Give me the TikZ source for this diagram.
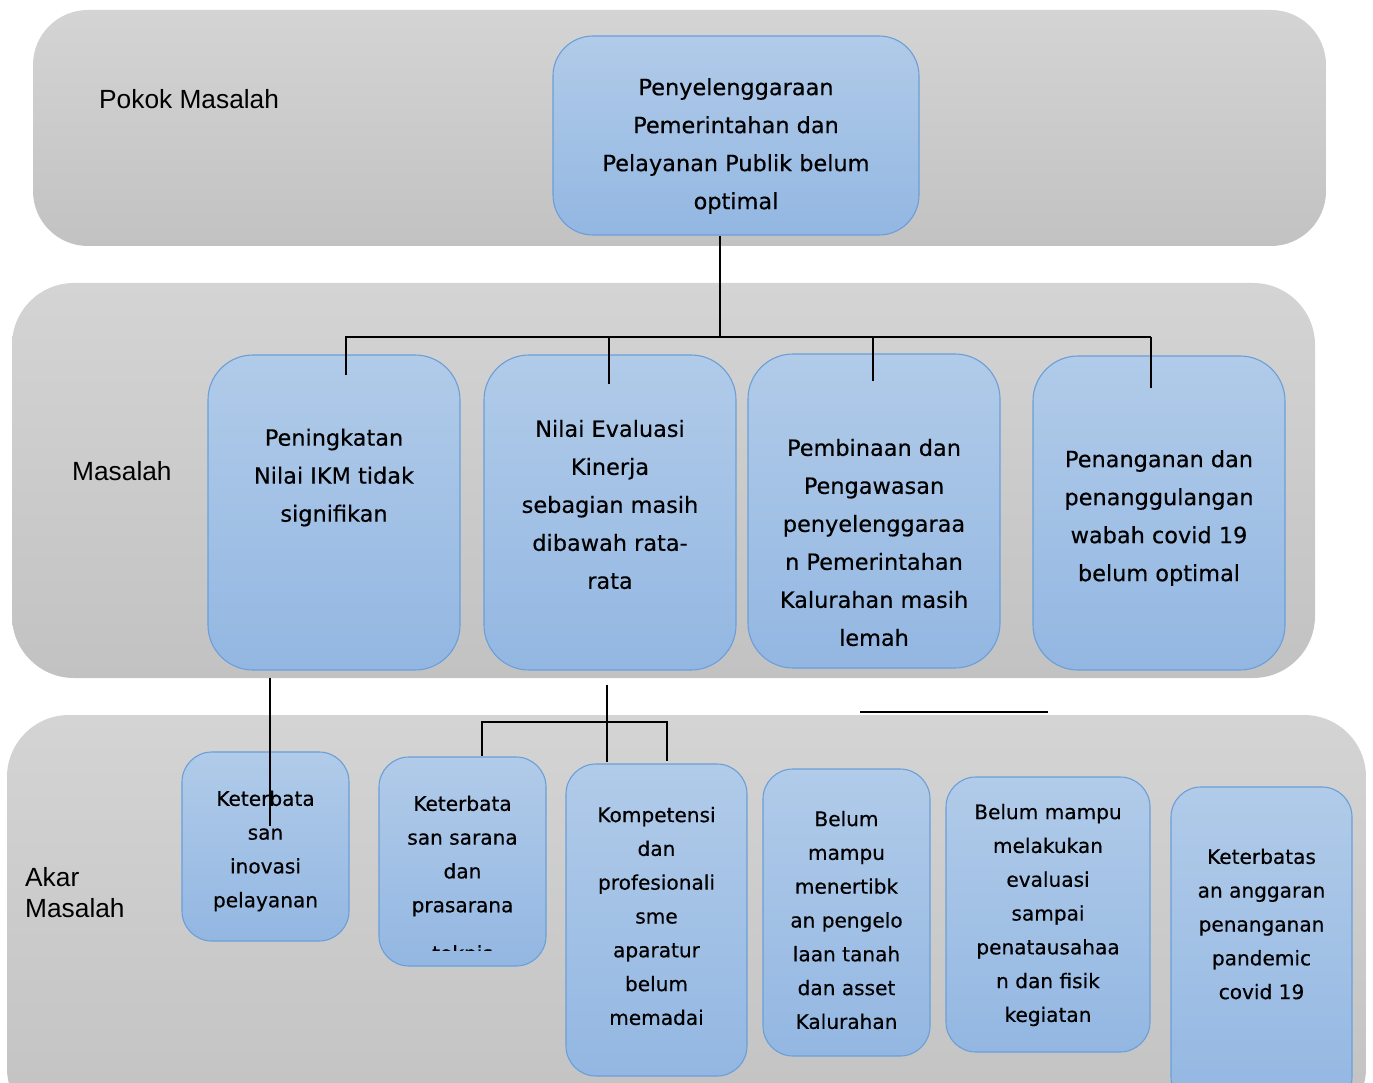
\documentclass[tikz,border=0pt]{standalone}
\usepackage{fontspec}
\setmainfont{Liberation Sans}
\newfontfamily\hand{DejaVu Sans}[FakeBold=0.4]
\definecolor{bandtop}{HTML}{D4D4D4}
\definecolor{bandbot}{HTML}{C2C2C2}
\definecolor{cardtop}{HTML}{B1CBE9}
\definecolor{cardbot}{HTML}{93B7E2}
\definecolor{cardline}{HTML}{6A9FD8}
\begin{document}
\begin{tikzpicture}[x=1pt,y=-1pt,
  band/.style={draw=none,top color=bandtop,bottom color=bandbot},
  card/.style={rectangle,draw=cardline,line width=1.1pt,top color=cardtop,bottom color=cardbot,inner sep=0pt},
  bigtext/.style={align=center,inner sep=0pt,font=\hand\fontsize{22.4}{38}\selectfont},
  smalltext/.style={align=center,inner sep=0pt,font=\hand\fontsize{20.1}{33.8}\selectfont},
  tier/.style={anchor=base west,inner sep=0pt,font=\fontsize{26.3}{31}\selectfont,align=left},
  link/.style={draw=black,line width=2.9pt}]
\useasboundingbox (0,0) rectangle (1373,1083);
\clip (0,0) rectangle (1373,1083);
\fill[white] (0,0) rectangle (1373,1083);

% three horizontal bands
\path[band,rounded corners=55pt] (33,10) rectangle (1326,246);
\path[band,rounded corners=62pt] (12,283) rectangle (1315,678);
\path[band,rounded corners=62pt] (7,715) rectangle (1366,1130);

% tier labels
\node[tier] (lab1) at (99,109) {Pokok Masalah};
\node[tier] (lab2) at (72,480) {Masalah};
\node[tier,anchor=north west] (lab3) at (25,867) {Akar\\Masalah};

% top problem
\node[card,rounded corners=40pt,minimum width=366pt,minimum height=199pt] (T0) at (736,135.5) {};
\node[bigtext] (t0) at (736,146) {Penyelenggaraan\\Pemerintahan dan\\Pelayanan Publik belum\\optimal};

% problems
\node[card,rounded corners=45pt,minimum width=252pt,minimum height=315pt] (M1) at (334,512.5) {};
\node[card,rounded corners=45pt,minimum width=252pt,minimum height=315pt] (M2) at (610,512.5) {};
\node[card,rounded corners=45pt,minimum width=252pt,minimum height=314pt] (M3) at (874,511) {};
\node[card,rounded corners=45pt,minimum width=252pt,minimum height=314pt] (M4) at (1159,513) {};
\node[bigtext] (m1) at (334,477.5) {Peningkatan\\Nilai IKM tidak\\signifikan};
\node[bigtext] (m2) at (610,504.5) {Nilai Evaluasi\\Kinerja\\sebagian masih\\dibawah rata-\\rata};
\node[bigtext] (m3) at (874,542.5) {Pembinaan dan\\Pengawasan\\penyelenggaraa\\n Pemerintahan\\Kalurahan masih\\lemah};
\node[bigtext] (m4) at (1159,518) {Penanganan dan\\penanggulangan\\wabah covid 19\\belum optimal};

% root causes
\node[card,rounded corners=30pt,minimum width=167pt,minimum height=189pt] (B1) at (265.5,846.5) {};
\node[card,rounded corners=30pt,minimum width=167pt,minimum height=209pt] (B2) at (462.5,861.5) {};
\node[card,rounded corners=30pt,minimum width=181pt,minimum height=312pt] (B3) at (656.5,920) {};
\node[card,rounded corners=30pt,minimum width=167pt,minimum height=287pt] (B4) at (846.5,912.5) {};
\node[card,rounded corners=30pt,minimum width=204pt,minimum height=275pt] (B5) at (1048,914.5) {};
\node[card,rounded corners=30pt,minimum width=181pt,minimum height=320pt] (B6) at (1261.5,947) {};
\node[smalltext] (b1) at (265.5,851) {Keterbata\\san\\inovasi\\pelayanan};
\node[smalltext] (b2) at (462.5,856) {Keterbata\\san sarana\\dan\\prasarana};
% last line of this card overflows its text area and is cut off
\begin{scope}
  \clip (379,757) rectangle (546,950);
  \node[smalltext] (b2x) at (462.5,953) {teknis};
\end{scope}
\node[smalltext] (b3) at (656.5,916) {Kompetensi\\dan\\profesionali\\sme\\aparatur\\belum\\memadai};
\node[smalltext] (b4) at (846.5,920) {Belum\\mampu\\menertibk\\an pengelo\\laan tanah\\dan asset\\Kalurahan};
\node[smalltext] (b5) at (1048,915) {Belum mampu\\melakukan\\evaluasi\\sampai\\penatausahaa\\n dan fisik\\kegiatan};
\node[smalltext] (b6) at (1261.5,924) {Keterbatas\\an anggaran\\penanganan\\pandemic\\covid 19};

% upper tree
\coordinate (hub) at (720,337);
\coordinate (busL) at (345,337);
\coordinate (busR) at (1151,337);
\coordinate (e1) at (346,375);
\coordinate (e2) at (609,384);
\coordinate (e3) at (873,381);
\coordinate (e4) at (1151,388);
\draw[link] (T0.south -| hub) -- (hub);
\draw[link] (busL) -- (busR);
\draw[link] (e1 |- busL) -- (e1);
\draw[link] (e2 |- busL) -- (e2);
\draw[link] (e3 |- busL) -- (e3);
\draw[link] (e4 |- busL) -- (e4);

% lower tree
\coordinate (k1) at (270,826);
\draw[link] ([yshift=-7pt]M1.south -| k1) -- (k1);
\coordinate (k2) at (607,762);
\coordinate (h1) at (482,722);
\coordinate (h2) at (667,722);
\draw[link] ([yshift=-14pt]M2.south -| k2) -- (k2);
\draw[link] (B2.north -| h1) -- (h1) -- (h2) -- ([yshift=2pt]B3.north -| h2);

% loose stroke
\coordinate (s1) at (860,712);
\coordinate (s2) at (1048,712);
\draw[line width=2.9pt] (s1) -- (s2);
\end{tikzpicture}
\end{document}
